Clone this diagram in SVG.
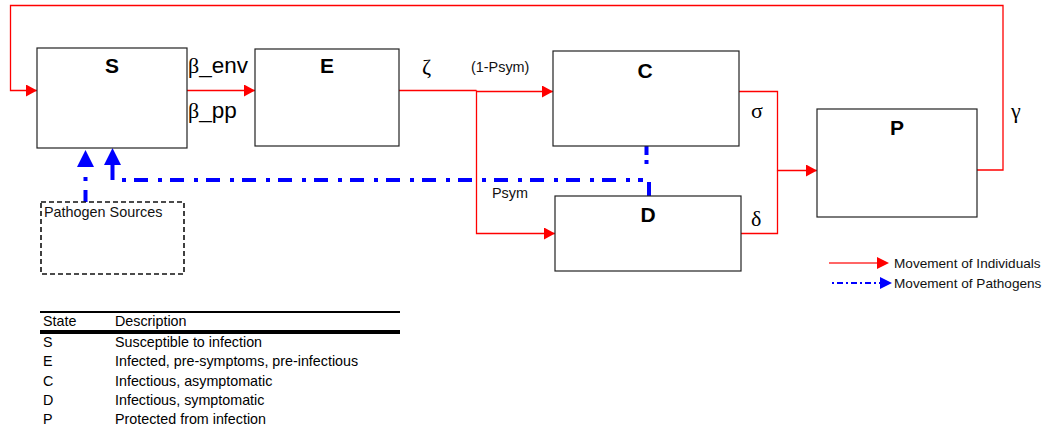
<svg xmlns="http://www.w3.org/2000/svg" width="1051" height="427" viewBox="0 0 1051 427">
  <style>
    .box { fill: #fff; stroke: #222; stroke-width: 1.2; }
    .src { fill: none; stroke: #111; stroke-width: 1.6; stroke-dasharray: 5 3; }
    .title { font-family: "Liberation Sans", Arial, sans-serif; font-weight: bold; font-size: 21px; text-anchor: middle; fill: #000; }
    .rate { font-family: "Liberation Serif", "Times New Roman", serif; font-size: 22px; fill: #000; }
    .ratesans { font-family: "Liberation Sans", Arial, sans-serif; font-size: 22.5px; fill: #000; }
    .small { font-family: "Liberation Sans", Arial, sans-serif; font-size: 14.4px; fill: #111; }
    .legend { font-family: "Liberation Sans", Arial, sans-serif; font-size: 13.6px; fill: #111; }
    .ind { fill: none; stroke: #f00; stroke-width: 1.3; }
    .path { fill: none; stroke: #00f; stroke-width: 4; }
    .dashdot { stroke-dasharray: 4 8 14 10; }
    .tbl { font-family: "Liberation Sans", Arial, sans-serif; font-size: 14.3px; fill: #000; }
  </style>
  <defs>
    <marker id="redArrow" markerWidth="11" markerHeight="12" refX="11" refY="6" orient="auto" markerUnits="userSpaceOnUse">
      <path d="M0,0 L11,6 L0,12 Z" fill="#f00"/>
    </marker>
  </defs>

  <rect width="1051" height="427" fill="#fff"/>

  <!-- Movement of individuals -->
  <g id="connectors">
    <path class="ind" d="M977,170 H1003 V5.5 H10.5 V90.5 H37" marker-end="url(#redArrow)"/>
    <path class="ind" d="M187,90.5 H255" marker-end="url(#redArrow)"/>
    <path class="ind" d="M399,90.5 H476.5"/>
    <path class="ind" d="M476.5,91.5 H553" marker-end="url(#redArrow)"/>
    <path class="ind" d="M476.5,90.5 V233.5 H555" marker-end="url(#redArrow)"/>
    <path class="ind" d="M739,91.5 H777.5 V170.5 H817" marker-end="url(#redArrow)"/>
    <path class="ind" d="M741,233.5 H777.5 V170.5"/>

    <!-- Movement of pathogens -->
    <path class="path dashdot" d="M122,180 H643"/>
    <path class="path" d="M112.5,180 V164"/>
    <polygon points="112.5,148 121,165 104,165" fill="#00f"/>
    <path class="path" d="M85.5,202 V190 M85.5,181 V177"/>
    <polygon points="85.5,150 94,167 77,167" fill="#00f"/>
    <path class="path" d="M646.5,146 V155 M646.5,160 V164"/>
    <path class="path" d="M649,196 V182"/>
  </g>

  <g id="node-S">
    <rect class="box" x="37" y="48" width="150" height="100"/>
    <text class="title" x="112" y="73">S</text>
  </g>
  <g id="node-E">
    <rect class="box" x="255" y="49" width="144" height="97"/>
    <text class="title" x="327" y="73">E</text>
  </g>
  <g id="node-C">
    <rect class="box" x="553" y="51" width="186" height="95"/>
    <text class="title" x="645" y="78">C</text>
  </g>
  <g id="node-D">
    <rect class="box" x="555" y="196" width="186" height="75"/>
    <text class="title" x="648" y="222">D</text>
  </g>
  <g id="node-P">
    <rect class="box" x="817" y="109" width="160" height="108"/>
    <text class="title" x="897" y="135">P</text>
  </g>
  <g id="node-sources">
    <rect class="src" x="41" y="202" width="143" height="72"/>
    <text class="small" x="44" y="217">Pathogen Sources</text>
  </g>

  <!-- Rate labels -->
  <g id="labels">
    <text x="188" y="73"><tspan class="rate">β</tspan><tspan class="ratesans">_env</tspan></text>
    <text x="188" y="118"><tspan class="rate">β</tspan><tspan class="ratesans">_pp</tspan></text>
    <text class="rate" x="422" y="74">ζ</text>
    <text class="small" x="471" y="72">(1-Psym)</text>
    <text class="small" x="492" y="198">Psym</text>
    <text class="rate" x="751" y="118">σ</text>
    <text class="rate" x="751" y="226">δ</text>
    <text class="rate" x="1011" y="118">γ</text>
  </g>

  <!-- Legend -->
  <g id="legend">
    <path d="M829,263 H878" stroke="#f33" stroke-width="1.3" fill="none"/>
    <polygon points="877,257 889,263 877,269" fill="#f00"/>
    <text class="legend" x="894" y="268">Movement of Individuals</text>
    <path d="M832,283 H880" stroke="#00f" stroke-width="2" fill="none" stroke-dasharray="2 3 6 3"/>
    <polygon points="880,277 892,283 880,289" fill="#00f"/>
    <text class="legend" x="894" y="288">Movement of Pathogens</text>
  </g>

  <!-- State table -->
  <g id="table">
    <line x1="40" y1="312" x2="400" y2="312" stroke="#000" stroke-width="2"/>
    <text class="tbl" x="43" y="325.5">State</text>
    <text class="tbl" x="115" y="325.5">Description</text>
    <line x1="40" y1="332" x2="400" y2="332" stroke="#000" stroke-width="4"/>
    <text class="tbl" x="43" y="347">S</text>
    <text class="tbl" x="115" y="347">Susceptible to infection</text>
    <text class="tbl" x="43" y="366.3">E</text>
    <text class="tbl" x="115" y="366.3">Infected, pre-symptoms, pre-infectious</text>
    <text class="tbl" x="43" y="385.6">C</text>
    <text class="tbl" x="115" y="385.6">Infectious, asymptomatic</text>
    <text class="tbl" x="43" y="405">D</text>
    <text class="tbl" x="115" y="405">Infectious, symptomatic</text>
    <text class="tbl" x="43" y="424.3">P</text>
    <text class="tbl" x="115" y="424.3">Protected from infection</text>
  </g>
</svg>
